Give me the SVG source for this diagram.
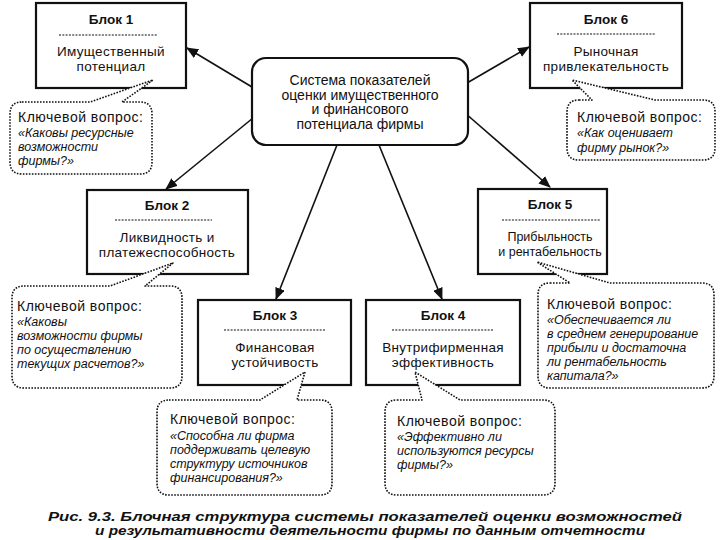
<svg xmlns="http://www.w3.org/2000/svg" width="720" height="540" viewBox="0 0 720 540">
<defs>
<style>
text{font-family:"Liberation Sans",Arial,sans-serif;fill:#111}
.t{font-size:13.5px;font-weight:bold;text-anchor:middle}
.b{font-size:13.5px;letter-spacing:0.3px;text-anchor:middle}
.s{font-size:12.5px;text-anchor:middle}
.c{font-size:14px;text-anchor:middle}
.h{font-size:14px;letter-spacing:0.5px}
.i{font-size:12.5px;font-style:italic}
.box{fill:#fff;stroke:#111;stroke-width:2.2}
.dash{stroke:#111;stroke-width:1.2;stroke-dasharray:2 1.3}
.call{fill:#fff;stroke:#111;stroke-width:1.6;stroke-dasharray:1.6 1.4;stroke-linejoin:round}
.arr{stroke:#111;stroke-width:1.6;fill:none;marker-end:url(#ah)}
.cap{font-size:13px;font-weight:bold;font-style:italic;text-anchor:middle}
</style>
<marker id="ah" viewBox="0 0 12 10" refX="11" refY="5" markerWidth="12" markerHeight="10" markerUnits="userSpaceOnUse" orient="auto">
<path d="M0,0 L12,5 L0,10 Z" fill="#111"/>
</marker>
</defs>
<rect width="720" height="540" fill="#fff"/>

<g id="connectors">
<line class="arr" x1="252" y1="87" x2="187" y2="48"/>
<line class="arr" x1="467" y1="83" x2="529" y2="47"/>
<line class="arr" x1="253" y1="118" x2="166" y2="189"/>
<line class="arr" x1="465" y1="113" x2="550" y2="187"/>
<line class="arr" x1="337" y1="145" x2="276" y2="299"/>
<line class="arr" x1="379" y1="145" x2="442" y2="299"/>
</g>

<g id="center">
<rect class="box" x="252" y="58" width="216" height="87" rx="14"/>
<text class="c" x="360" y="85">Система показателей</text>
<text class="c" x="360" y="99.5">оценки имущественного</text>
<text class="c" x="360" y="114">и финансового</text>
<text class="c" x="360" y="128.5">потенциала фирмы</text>
</g>

<g id="block1">
<rect class="box" x="36" y="3" width="150" height="85"/>
<text class="t" x="111" y="24">Блок 1</text>
<line class="dash" x1="59" y1="35" x2="157" y2="35"/>
<text class="b" x="111" y="56">Имущественный</text>
<text class="b" x="111" y="71">потенциал</text>
</g>

<g id="callout1">
<path class="call" d="M22,102 H90 L153,80 L122,102 H140 Q152,102 152,114 V162 Q152,174 140,174 H22 Q10,174 10,162 V114 Q10,102 22,102 Z"/>
<text class="h" x="18" y="122">Ключевой вопрос:</text>
<text class="i" x="18" y="137">«Каковы ресурсные</text>
<text class="i" x="18" y="151">возможности</text>
<text class="i" x="18" y="165">фирмы?»</text>
</g>

<g id="block6">
<rect class="box" x="530" y="3" width="152" height="85"/>
<text class="t" x="606" y="24">Блок 6</text>
<line class="dash" x1="557" y1="34" x2="655" y2="34"/>
<text class="b" x="606" y="56">Рыночная</text>
<text class="b" x="606" y="71">привлекательность</text>
</g>

<g id="callout6">
<path class="call" d="M579,100 H592 L572,80 L655,100 H703 Q715,100 715,112 V148 Q715,160 703,160 H579 Q567,160 567,148 V112 Q567,100 579,100 Z"/>
<text class="h" x="577" y="122">Ключевой вопрос:</text>
<text class="i" x="577" y="137">«Как оценивает</text>
<text class="i" x="577" y="152">фирму рынок?»</text>
</g>

<g id="block2">
<rect class="box" x="87" y="190" width="161" height="84"/>
<text class="t" x="167" y="210">Блок 2</text>
<line class="dash" x1="115" y1="220" x2="212" y2="220"/>
<text class="b" x="167" y="242">Ликвидность и</text>
<text class="b" x="167" y="257">платежеспособность</text>
</g>

<g id="callout2">
<path class="call" d="M24,286 H110 L173,263 L145,286 H170 Q182,286 182,298 V376 Q182,388 170,388 H24 Q12,388 12,376 V298 Q12,286 24,286 Z"/>
<text class="h" x="17" y="311">Ключевой вопрос:</text>
<text class="i" x="17" y="326">«Каковы</text>
<text class="i" x="17" y="340">возможности фирмы</text>
<text class="i" x="17" y="354">по осуществлению</text>
<text class="i" x="17" y="368">текущих расчетов?»</text>
</g>

<g id="block5">
<rect class="box" x="478" y="189" width="129" height="85"/>
<text class="t" x="550" y="209">Блок 5</text>
<line class="dash" x1="502" y1="220" x2="600" y2="220"/>
<text class="s" x="550" y="241">Прибыльность</text>
<text class="s" x="550" y="256">и рентабельность</text>
</g>

<g id="callout5">
<path class="call" d="M550,283 H570 L537,262 L610,283 H702 Q714,283 714,295 V376 Q714,388 702,388 H550 Q538,388 538,376 V295 Q538,283 550,283 Z"/>
<text class="h" x="547" y="309">Ключевой вопрос:</text>
<text class="i" x="547" y="324">«Обеспечивается ли</text>
<text class="i" x="547" y="338">в среднем генерирование</text>
<text class="i" x="547" y="352">прибыли и достаточна</text>
<text class="i" x="547" y="366">ли рентабельность</text>
<text class="i" x="547" y="380">капитала?»</text>
</g>

<g id="block3">
<rect class="box" x="198" y="300" width="153" height="85"/>
<text class="t" x="275" y="320">Блок 3</text>
<line class="dash" x1="224" y1="330" x2="325" y2="330"/>
<text class="b" x="275" y="352">Финансовая</text>
<text class="b" x="275" y="367">устойчивость</text>
</g>

<g id="callout3">
<path class="call" d="M169,400 H260 L305,372 L297,400 H320 Q332,400 332,412 V483 Q332,495 320,495 H169 Q157,495 157,483 V412 Q157,400 169,400 Z"/>
<text class="h" x="170" y="424">Ключевой вопрос:</text>
<text class="i" x="170" y="440">«Способна ли фирма</text>
<text class="i" x="170" y="454">поддерживать целевую</text>
<text class="i" x="170" y="468">структуру источников</text>
<text class="i" x="170" y="482">финансирования?»</text>
</g>

<g id="block4">
<rect class="box" x="366" y="300" width="154" height="85"/>
<text class="t" x="443" y="320">Блок 4</text>
<line class="dash" x1="392" y1="330" x2="494" y2="330"/>
<text class="b" x="443" y="352">Внутрифирменная</text>
<text class="b" x="443" y="367">эффективность</text>
</g>

<g id="callout4">
<path class="call" d="M397,400 H422 L415,372 L460,400 H543 Q555,400 555,412 V483 Q555,495 543,495 H397 Q385,495 385,483 V412 Q385,400 397,400 Z"/>
<text class="h" x="397" y="426">Ключевой вопрос:</text>
<text class="i" x="397" y="441">«Эффективно ли</text>
<text class="i" x="397" y="455">используются ресурсы</text>
<text class="i" x="397" y="469">фирмы?»</text>
</g>

<g id="caption">
<text class="cap" x="365" y="521" textLength="634" lengthAdjust="spacingAndGlyphs">Рис. 9.3. Блочная структура системы показателей  оценки возможностей</text>
<text class="cap" x="370" y="535" textLength="550" lengthAdjust="spacingAndGlyphs">и результативности деятельности фирмы по данным отчетности</text>
</g>
</svg>
